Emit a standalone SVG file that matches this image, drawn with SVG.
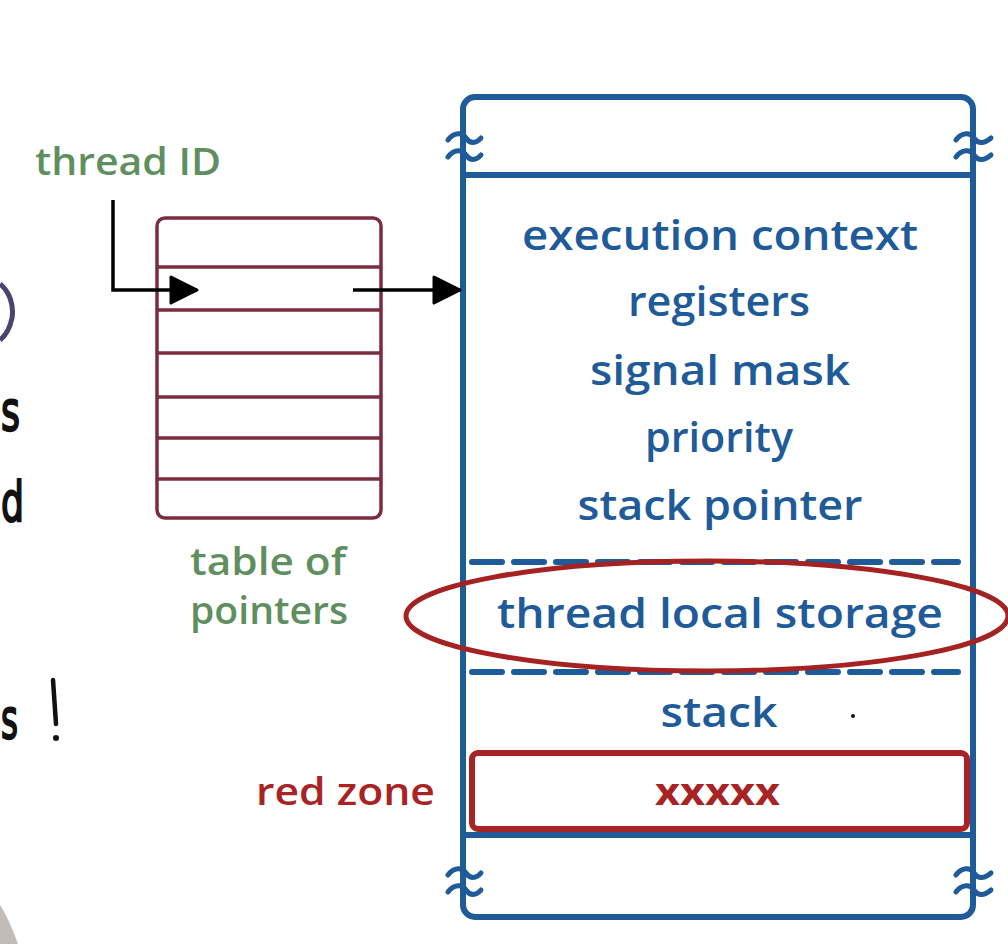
<svg xmlns="http://www.w3.org/2000/svg" width="1008" height="944" viewBox="0 0 1008 944">
<style>
.blue{fill:#1f5b98;font-family:"Open Sans","Liberation Sans",sans-serif;font-weight:600;font-size:42px;text-anchor:middle}
.green{fill:#5f8f5f;font-family:"Open Sans","Liberation Sans",sans-serif;font-weight:600;font-size:38px}
.red{fill:#a82424;font-family:"Open Sans","Liberation Sans",sans-serif;font-weight:700;font-size:38px}
.hand{fill:#111;stroke:#111;stroke-width:2.2;font-family:"DejaVu Sans",sans-serif;font-size:56px}
.bl{fill:none;stroke:#1f5b98;stroke-width:6;stroke-linecap:round}
.tb{fill:none;stroke:#7b2d3f;stroke-width:3.5}
.brk{fill:none;stroke:#1f5b98;stroke-width:5;stroke-linecap:round}
</style>
<defs>
<marker id="ah" markerWidth="30" markerHeight="30" refX="28" refY="15" orient="auto" markerUnits="userSpaceOnUse" viewBox="0 0 30 30">
<path d="M2,2 L28,15 L2,28 z" fill="#000" stroke="#000" stroke-width="3" stroke-linejoin="round"/>
</marker>
</defs>
<rect width="1008" height="944" fill="#fff"/>

<g id="handwriting">
<path d="M0,284 C10,292 14,306 12,318 C10,328 5,336 0,340" fill="none" stroke="#4a4570" stroke-width="5"/>
<text class="hand" x="1" y="430" textLength="19" lengthAdjust="spacingAndGlyphs">s</text>
<text class="hand" x="1" y="521" textLength="23" lengthAdjust="spacingAndGlyphs">d</text>
<text class="hand" x="1" y="738" textLength="17" lengthAdjust="spacingAndGlyphs">s</text>
<path d="M53,680 L56,724" stroke="#111" stroke-width="4.5" stroke-linecap="round"/>
<circle cx="56" cy="738" r="3" fill="#111"/>
<path d="M0,905 C7,916 13,930 18,944 L0,944 z" fill="#9a9088" opacity="0.6"/>
</g>

<g id="thread-id">
<text class="green" x="35" y="175" textLength="186" lengthAdjust="spacingAndGlyphs">thread ID</text>
</g>

<g id="table">
<rect class="tb" x="157" y="218" width="224" height="300" rx="8"/>
<line class="tb" x1="157" y1="267" x2="381" y2="267"/>
<line class="tb" x1="157" y1="310" x2="381" y2="310"/>
<line class="tb" x1="157" y1="353" x2="381" y2="353"/>
<line class="tb" x1="157" y1="397" x2="381" y2="397"/>
<line class="tb" x1="157" y1="438" x2="381" y2="438"/>
<line class="tb" x1="157" y1="479" x2="381" y2="479"/>
<text class="green" x="190" y="575" textLength="156" lengthAdjust="spacingAndGlyphs">table of</text>
<text class="green" x="190" y="624" textLength="158" lengthAdjust="spacingAndGlyphs">pointers</text>
</g>

<g id="tcb">
<rect class="bl" x="463" y="97" width="510" height="820" rx="12"/>
<line class="bl" x1="463" y1="175" x2="973" y2="175"/>
<line class="bl" x1="463" y1="835" x2="973" y2="835"/>
<path class="brk" d="M448,140 C454,132 462,132 466,138 C470,144 476,144 481,138"/>
<path class="brk" d="M448,157 C454,149 462,149 466,155 C470,161 476,161 481,155"/>
<path class="brk" d="M956,140 C962,132 970,132 974,138 C978,144 984,144 991,138"/>
<path class="brk" d="M956,157 C962,149 970,149 974,155 C978,161 984,161 991,155"/>
<path class="brk" d="M448,875 C454,867 462,867 466,873 C470,879 476,879 481,873"/>
<path class="brk" d="M448,892 C454,884 462,884 466,890 C470,896 476,896 481,890"/>
<path class="brk" d="M956,875 C962,867 970,867 974,873 C978,879 984,879 991,873"/>
<path class="brk" d="M956,892 C962,884 970,884 974,890 C978,896 984,896 991,890"/>
<text class="blue" x="720" y="250" textLength="396" lengthAdjust="spacingAndGlyphs">execution context</text>
<text class="blue" x="719" y="316" textLength="182" lengthAdjust="spacingAndGlyphs">registers</text>
<text class="blue" x="720" y="385" textLength="260" lengthAdjust="spacingAndGlyphs">signal mask</text>
<text class="blue" x="719" y="452" textLength="148" lengthAdjust="spacingAndGlyphs">priority</text>
<text class="blue" x="720" y="520" textLength="285" lengthAdjust="spacingAndGlyphs">stack pointer</text>
<line x1="472" y1="562" x2="958" y2="562" stroke="#1f5b98" stroke-width="6" stroke-dasharray="30,12" stroke-linecap="round"/>
<line x1="472" y1="672" x2="958" y2="672" stroke="#1f5b98" stroke-width="6" stroke-dasharray="30,12" stroke-linecap="round"/>
<text class="blue" x="720" y="628" textLength="446" lengthAdjust="spacingAndGlyphs">thread local storage</text>
<text class="blue" x="719" y="727" textLength="117" lengthAdjust="spacingAndGlyphs">stack</text>
<circle cx="853" cy="716" r="2" fill="#111"/>
<rect x="472" y="753" width="495" height="76" rx="6" fill="none" stroke="#a82424" stroke-width="6"/>
<text class="red" x="655" y="805" textLength="125" lengthAdjust="spacingAndGlyphs">xxxxx</text>
</g>

<g id="red-zone-label">
<text class="red" x="256" y="805" textLength="179" lengthAdjust="spacingAndGlyphs" style="font-weight:600">red zone</text>
</g>

<g id="tls-highlight">
<ellipse cx="707" cy="616" rx="301" ry="55" fill="none" stroke="#a52222" stroke-width="5"/>
</g>

<g id="connectors">
<path d="M113,200 L113,290 L197,290" fill="none" stroke="#000" stroke-width="3.5" marker-end="url(#ah)"/>
<path d="M353,290 L460,290" fill="none" stroke="#000" stroke-width="3.5" marker-end="url(#ah)"/>
</g>
</svg>
